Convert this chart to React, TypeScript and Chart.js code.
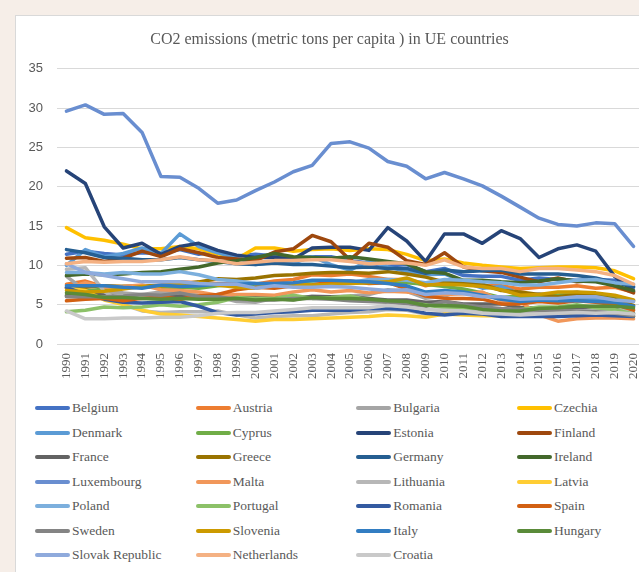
import React, { useEffect, useRef } from "react";
import { Chart, registerables } from "chart.js";

Chart.register(...registerables);

const TITLE = "CO2 emissions (metric tons per capita ) in UE countries";

const years = [
  "1990", "1991", "1992", "1993", "1994", "1995", "1996", "1997", "1998", "1999",
  "2000", "2001", "2002", "2003", "2004", "2005", "2006", "2007", "2008", "2009",
  "2010", "2011", "2012", "2013", "2014", "2015", "2016", "2017", "2018", "2019", "2020",
];

const yTicks = [0, 5, 10, 15, 20, 25, 30, 35];

const countries = [
  "Belgium", "Austria", "Bulgaria", "Czechia", "Denmark", "Cyprus", "Estonia", "Finland",
  "France", "Greece", "Germany", "Ireland", "Luxembourg", "Malta", "Lithuania", "Latvia",
  "Poland", "Portugal", "Romania", "Spain", "Sweden", "Slovenia", "Italy", "Hungary",
  "Slovak Republic", "Netherlands", "Croatia",
];

const colors = [
  "#4472C4", "#ED7D31", "#A5A5A5", "#FFC000", "#5B9BD5", "#70AD47", "#264478", "#9E480E",
  "#636363", "#997300", "#255E91", "#43682B", "#698ED0", "#F1975A", "#B7B7B7", "#FFCD33",
  "#7CAFDD", "#8CC168", "#335AA1", "#D26012", "#848484", "#CC9A00", "#327DC2", "#5A8B39",
  "#8FAADC", "#F4B183", "#C9C9C9",
];

const belgium = [11.4, 11.8, 11.5, 11.3, 11.6, 11.5, 12.0, 11.4, 11.8, 11.2, 11.4, 11.2, 10.9, 11.1, 11.1, 10.6, 10.3, 9.9, 10.1, 9.2, 9.6, 8.7, 8.6, 8.6, 8.1, 8.4, 8.2, 8.1, 8.2, 8.1, 7.2];
const austria = [7.6, 8.0, 7.3, 7.3, 7.3, 7.5, 7.9, 7.8, 7.7, 7.6, 7.6, 8.0, 8.2, 8.8, 8.7, 8.9, 8.6, 8.2, 8.2, 7.4, 8.0, 7.7, 7.4, 7.4, 7.0, 7.2, 7.2, 7.4, 7.1, 7.2, 6.6];
const bulgaria = [8.6, 6.8, 6.5, 6.5, 6.3, 6.6, 6.5, 6.2, 6.0, 5.4, 5.3, 5.8, 5.6, 6.1, 6.0, 6.1, 6.3, 6.9, 6.7, 5.8, 6.1, 6.9, 6.4, 5.7, 6.0, 6.4, 6.2, 6.6, 6.1, 6.0, 5.5];
const czechia = [14.8, 13.5, 13.2, 12.7, 12.1, 12.1, 12.4, 12.1, 11.4, 10.8, 12.2, 12.2, 11.8, 12.0, 12.1, 11.9, 12.1, 12.0, 11.4, 10.6, 10.8, 10.3, 10.0, 9.8, 9.6, 9.7, 9.8, 9.8, 9.7, 9.3, 8.3];
const denmark = [10.0, 12.0, 11.1, 11.5, 12.2, 11.5, 14.0, 12.4, 11.6, 11.0, 10.1, 10.4, 10.3, 11.1, 10.1, 9.4, 10.6, 9.8, 9.2, 8.8, 8.9, 7.9, 7.1, 7.3, 6.4, 5.9, 6.1, 5.7, 5.7, 5.2, 4.8];
const cyprus = [6.2, 6.7, 7.0, 7.3, 7.2, 7.2, 7.2, 7.1, 7.4, 7.5, 7.6, 7.3, 7.5, 7.9, 7.8, 7.8, 7.8, 7.9, 7.8, 7.6, 7.3, 7.0, 6.5, 5.9, 6.1, 6.0, 6.2, 6.3, 6.2, 6.1, 5.5];
const estonia = [22.0, 20.4, 14.9, 12.2, 12.8, 11.4, 12.4, 12.8, 11.9, 11.3, 11.0, 11.0, 10.8, 12.2, 12.3, 12.3, 11.9, 14.8, 13.1, 10.5, 14.0, 14.0, 12.8, 14.4, 13.4, 11.0, 12.1, 12.6, 11.8, 8.6, 6.7];
const finland = [10.9, 11.0, 10.5, 10.9, 11.8, 11.1, 12.1, 11.6, 11.0, 10.8, 10.6, 11.7, 12.1, 13.8, 13.0, 10.7, 12.8, 12.3, 10.6, 10.1, 11.6, 9.8, 9.3, 9.1, 8.5, 7.9, 8.4, 7.9, 8.1, 7.4, 6.5];
const france = [6.1, 6.5, 6.2, 5.9, 5.8, 5.9, 6.1, 6.0, 6.3, 6.2, 6.0, 6.0, 5.9, 6.0, 6.0, 6.0, 5.8, 5.6, 5.6, 5.3, 5.4, 5.1, 5.1, 5.1, 4.6, 4.6, 4.6, 4.7, 4.5, 4.4, 3.9];
const greece = [7.2, 7.2, 7.4, 7.3, 7.4, 7.4, 7.6, 7.9, 8.3, 8.2, 8.4, 8.7, 8.8, 9.0, 9.1, 9.1, 9.0, 9.2, 8.9, 8.5, 7.9, 7.8, 7.6, 6.8, 6.6, 6.3, 6.0, 6.3, 6.1, 5.7, 4.9];
const germany = [12.0, 11.6, 11.0, 10.9, 10.7, 10.7, 11.0, 10.7, 10.5, 10.2, 10.1, 10.3, 10.1, 10.1, 9.9, 9.7, 9.8, 9.6, 9.6, 9.0, 9.4, 9.2, 9.3, 9.4, 8.9, 8.9, 8.9, 8.7, 8.4, 7.8, 7.3];
const ireland = [8.7, 8.9, 8.8, 8.9, 9.1, 9.2, 9.5, 9.8, 10.3, 10.6, 11.0, 11.5, 11.1, 11.0, 10.9, 11.1, 10.8, 10.5, 10.2, 9.2, 9.0, 8.1, 8.1, 7.9, 7.8, 8.0, 8.3, 8.0, 7.9, 7.4, 6.8];
const luxembourg = [29.6, 30.4, 29.2, 29.3, 26.9, 21.3, 21.2, 19.8, 17.9, 18.3, 19.5, 20.6, 21.9, 22.7, 25.5, 25.7, 24.9, 23.2, 22.6, 21.0, 21.8, 21.0, 20.1, 18.8, 17.4, 16.0, 15.2, 15.0, 15.4, 15.3, 12.4];
const malta = [7.1, 7.8, 7.2, 7.3, 7.5, 6.9, 6.8, 6.6, 6.2, 6.3, 6.3, 6.2, 6.6, 6.9, 6.6, 6.8, 6.5, 6.7, 6.6, 6.3, 6.3, 6.4, 6.6, 5.5, 5.4, 3.7, 2.9, 3.2, 3.3, 3.3, 3.2];
const lithuania = [9.5, 9.7, 6.7, 5.0, 4.2, 4.0, 4.1, 4.1, 4.2, 3.7, 3.3, 3.5, 3.6, 3.6, 3.8, 4.0, 4.1, 4.4, 4.3, 3.8, 4.0, 4.2, 4.3, 3.9, 3.9, 4.0, 4.1, 4.2, 4.3, 4.2, 4.3];
const latvia = [7.1, 6.8, 5.6, 5.0, 4.3, 3.8, 3.7, 3.5, 3.3, 3.1, 2.9, 3.1, 3.1, 3.2, 3.3, 3.4, 3.5, 3.7, 3.6, 3.4, 3.8, 3.7, 3.6, 3.6, 3.6, 3.6, 3.7, 3.7, 3.9, 3.8, 3.5];
const poland = [9.1, 9.1, 8.9, 9.1, 8.9, 8.9, 9.2, 8.8, 8.2, 8.0, 7.7, 7.6, 7.4, 7.6, 7.8, 7.8, 8.2, 8.2, 8.1, 7.8, 8.2, 8.1, 7.9, 7.8, 7.5, 7.5, 7.8, 8.1, 8.2, 7.8, 7.6];
const portugal = [4.1, 4.3, 4.7, 4.6, 4.7, 5.0, 4.8, 5.0, 5.3, 5.9, 5.8, 5.8, 6.2, 5.8, 5.9, 6.1, 5.6, 5.4, 5.2, 5.0, 4.6, 4.6, 4.5, 4.4, 4.4, 4.7, 4.7, 5.0, 4.6, 4.4, 3.8];
const romania = [7.2, 6.3, 5.7, 5.3, 5.2, 5.3, 5.4, 4.8, 4.0, 3.7, 3.8, 4.0, 4.1, 4.3, 4.3, 4.3, 4.5, 4.5, 4.4, 3.9, 3.7, 3.9, 3.8, 3.5, 3.5, 3.5, 3.5, 3.6, 3.7, 3.6, 3.5];
const spain = [5.5, 5.7, 5.8, 5.5, 5.8, 6.0, 5.7, 6.1, 6.3, 6.9, 7.2, 7.1, 7.4, 7.5, 7.9, 8.0, 7.7, 7.8, 7.0, 6.1, 5.8, 5.8, 5.7, 5.1, 5.1, 5.4, 5.2, 5.5, 5.3, 5.0, 4.3];
const sweden = [6.0, 6.0, 6.0, 6.1, 6.3, 6.2, 6.5, 6.0, 6.0, 5.7, 5.6, 5.6, 5.8, 5.8, 5.7, 5.5, 5.4, 5.3, 5.1, 4.8, 5.4, 5.0, 4.7, 4.5, 4.4, 4.3, 4.3, 4.2, 4.1, 3.9, 3.6];
const slovenia = [6.8, 6.6, 6.7, 7.0, 7.3, 7.4, 7.6, 7.8, 7.5, 7.2, 7.1, 7.5, 7.6, 7.5, 7.6, 7.7, 7.8, 7.9, 8.4, 7.5, 7.6, 7.5, 7.3, 6.9, 6.2, 6.3, 6.6, 6.6, 6.5, 6.2, 5.6];
const italy = [7.4, 7.4, 7.4, 7.2, 7.1, 7.5, 7.3, 7.4, 7.6, 7.6, 7.7, 7.7, 7.8, 8.1, 8.1, 8.0, 7.9, 7.7, 7.4, 6.6, 6.8, 6.6, 6.2, 5.7, 5.4, 5.6, 5.5, 5.5, 5.4, 5.3, 4.8];
const hungary = [6.5, 6.3, 5.9, 5.9, 5.8, 5.7, 5.8, 5.7, 5.7, 5.8, 5.6, 5.7, 5.6, 5.9, 5.8, 5.8, 5.7, 5.5, 5.4, 4.9, 4.9, 4.8, 4.4, 4.2, 4.2, 4.5, 4.6, 4.8, 4.8, 4.8, 4.6];
const slovakRepublic = [10.2, 9.1, 8.7, 8.3, 7.9, 7.9, 7.9, 7.7, 7.6, 7.6, 7.1, 7.4, 7.2, 7.2, 7.3, 7.2, 7.0, 6.8, 6.9, 6.3, 6.5, 6.4, 6.0, 6.0, 5.7, 5.8, 5.8, 6.0, 6.0, 5.6, 5.4];
const netherlands = [10.2, 10.5, 10.4, 10.5, 10.5, 10.7, 11.1, 10.7, 10.6, 10.2, 10.4, 10.6, 10.6, 10.7, 10.7, 10.5, 10.2, 10.3, 10.3, 10.0, 10.7, 9.8, 9.6, 9.6, 9.2, 9.6, 9.6, 9.4, 9.2, 8.7, 7.6];
const croatia = [4.2, 3.2, 3.2, 3.3, 3.3, 3.4, 3.4, 3.6, 3.9, 4.0, 4.0, 4.2, 4.4, 4.6, 4.6, 4.6, 4.6, 4.9, 4.7, 4.4, 4.3, 4.2, 3.9, 3.8, 3.7, 3.8, 3.9, 4.0, 3.9, 4.0, 3.8];

const seriesValues = [
  belgium, austria, bulgaria, czechia, denmark, cyprus, estonia, finland,
  france, greece, germany, ireland, luxembourg, malta, lithuania, latvia,
  poland, portugal, romania, spain, sweden, slovenia, italy, hungary,
  slovakRepublic, netherlands, croatia,
];

const TEXT = "#595959";

export default function App() {
  const ref = useRef<HTMLCanvasElement>(null);

  useEffect(() => {
    if (!ref.current) return;
    const chart = new Chart(ref.current, {
      type: "line",
      data: {
        labels: years,
        datasets: countries.map((name, i) => ({
          label: name,
          data: seriesValues[i],
          borderColor: colors[i],
          backgroundColor: colors[i],
          borderWidth: 3.5,
          pointRadius: 0,
          pointHoverRadius: 0,
          tension: 0,
          fill: false,
          order: -i,
          borderCapStyle: "round" as const,
          borderJoinStyle: "round" as const,
        })),
      },
      options: {
        responsive: false,
        maintainAspectRatio: false,
        animation: false,
        layout: { padding: { left: 0, right: 33, top: 0, bottom: 0 } },
        plugins: {
          legend: { display: false },
          tooltip: { enabled: false },
          title: {
            display: true,
            text: TITLE,
            color: TEXT,
            font: { family: "'Liberation Serif', 'Times New Roman', serif", size: 16, weight: "normal" },
            padding: { top: 14, bottom: 19.5 },
          },
        },
        scales: {
          x: {
            offset: true,
            grid: { display: false, drawTicks: false, offset: true },
            border: { display: false },
            ticks: {
              autoSkip: false,
              maxRotation: 90,
              minRotation: 90,
              padding: 9,
              color: TEXT,
              font: { family: "'Liberation Serif', 'Times New Roman', serif", size: 13 },
            },
            afterFit: (s: any) => {
              s.height = 42;
            },
          },
          y: {
            min: 0,
            max: 35,
            afterBuildTicks: (s: any) => {
              s.ticks = yTicks.map((v) => ({ value: v }));
            },
            ticks: {
              padding: 14,
              color: TEXT,
              font: { family: "'Liberation Sans', Arial, sans-serif", size: 13 },
            },
            grid: { color: "#D9D9D9", lineWidth: 1, drawTicks: false },
            border: { display: false },
            afterFit: (s: any) => {
              s.width = 41;
            },
          },
        },
      },
    });
    return () => chart.destroy();
  }, []);

  const colW = 160.67;
  const rowH = 24.5;

  return (
    <div
      style={{
        position: "fixed",
        left: 0,
        top: 0,
        width: 639,
        height: 572,
        overflow: "hidden",
        background: "#F6EEE8",
      }}
    >
      <div
        style={{
          position: "absolute",
          left: 15,
          top: 15,
          width: 660,
          height: 600,
          background: "#FFFFFF",
          border: "1px solid #D9D9D9",
        }}
      />
      <canvas
        ref={ref}
        width={660}
        height={370}
        style={{ position: "absolute", left: 16, top: 16, width: 660, height: 370 }}
      />
      {countries.map((name, i) => {
        const col = i % 4;
        const row = Math.floor(i / 4);
        const cx = 35 + col * colW;
        const cy = 408 + row * rowH;
        return (
          <div key={name}>
            <div
              style={{
                position: "absolute",
                left: cx,
                top: cy - 2,
                width: 35,
                height: 4,
                borderRadius: 2,
                background: colors[i],
              }}
            />
            <div
              style={{
                position: "absolute",
                left: cx + 37,
                top: cy - 9,
                height: 18,
                lineHeight: "18px",
                fontFamily: "'Liberation Serif', 'Times New Roman', serif",
                fontSize: 13.5,
                color: TEXT,
                whiteSpace: "nowrap",
              }}
            >
              {name}
            </div>
          </div>
        );
      })}
    </div>
  );
}
